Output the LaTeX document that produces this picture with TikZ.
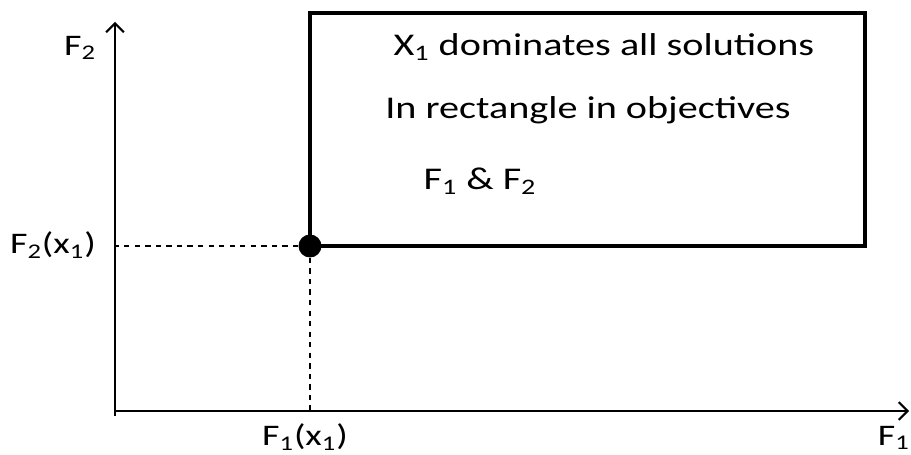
\documentclass[tikz,border=0pt]{standalone}
\usepackage{fontspec}
\setmainfont{Carlito}[FakeStretch=1.27]
\usetikzlibrary{arrows.meta}

\newcommand{\sbs}[1]{\textsubscript{#1}}

\begin{document}
\begin{tikzpicture}[x=0.02cm, y=-0.02cm, >={Straight Barb[length=5pt,width=10pt]},
    lbl/.style={font=\fontsize{17}{20}\selectfont, inner sep=0pt},
    txt/.style={font=\fontsize{18}{22}\selectfont, inner sep=0pt},
    dot/.style={circle, fill, inner sep=0pt, minimum size=0.46cm}]
    \useasboundingbox (0,0) rectangle (911,455);

    % axes
    \coordinate (O) at (115,411);
    \coordinate (Xend) at (909,411);
    \coordinate (Yend) at (115,22);
    \coordinate (Ybot) at (115,416);
    \draw[line width=1.2pt, ->] (O) -- (Xend);
    \draw[line width=1.2pt, ->] (Ybot) -- (Yend);
    \node[lbl] (F2) at (80,48) {F\sbs{2}};
    \node[lbl, anchor=east] (F1) at (910,438) {F\sbs{1}};

    % the point x1 and its projections
    \node[dot] (x1) at (310,246) {};
    \coordinate (px) at (310,411);
    \coordinate (py) at (115,246);
    \draw[dashed, line width=0.8pt] (x1) -- (px);
    \draw[dashed, line width=0.8pt] (x1) -- (py);
    \node[lbl] (F1x1) at (305,437) {F\sbs{1}(x\sbs{1})};
    \node[lbl] (F2x1) at (53,245) {F\sbs{2}(x\sbs{1})};

    % dominated region
    \coordinate (tr) at (865,13);
    \draw[line width=2.8pt] (x1.center) rectangle (tr);
    \node[txt] (t1) at (604,47) {X\sbs{1} dominates all solutions};
    \node[txt] (t2) at (588,110) {In rectangle in objectives};
    \node[txt] (t3) at (480,181) {F\sbs{1} \& F\sbs{2}};
\end{tikzpicture}
\end{document}
